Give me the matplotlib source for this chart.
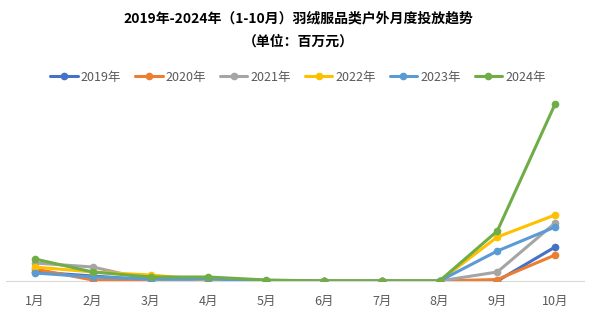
import matplotlib.pyplot as plt

plt.rcParams['font.family'] = ['Noto Sans CJK SC', 'DejaVu Sans']

months = ['1月', '2月', '3月', '4月', '5月', '6月', '7月', '8月', '9月', '10月']
series_names = ['2019年', '2020年', '2021年', '2022年', '2023年', '2024年']
colors = ['#4472C4', '#ED7D31', '#A5A5A5', '#FFC000', '#5B9BD5', '#70AD47']

# monthly spend, millions of yuan (approximate)
y2019 = [9, 5, 1, 1, 0.5, 0, 0, 0, 0, 34]
y2020 = [12, 1, 1, 1, 0.5, 0, 0, 0, 1.5, 26]
y2021 = [18, 14, 1, 1, 0.5, 0, 0, 0, 9, 58]
y2022 = [14, 9, 6, 1, 0.5, 0, 0, 0, 44, 66]
y2023 = [8, 4, 2, 2, 0.5, 0, 0, 0, 30, 54]
y2024 = [22, 9, 4, 4, 1, 0, 0, 0, 50, 177]
values = [y2019, y2020, y2021, y2022, y2023, y2024]

fig = plt.figure(figsize=(5.96, 3.23), dpi=100)
ax = fig.add_axes([6 / 596, 1 - 281 / 323, 578 / 596, 190 / 323])

x = list(range(len(months)))
for name, c, v in zip(series_names, colors, values):
    ax.plot(x, v, color=c, lw=2.2, marker='o', ms=4.5, label=name,
            solid_capstyle='round', solid_joinstyle='round')

ax.set_xlim(-0.5, len(months) - 0.5)
ax.set_ylim(0, 190)
ax.set_xticks(x)
ax.set_xticklabels(months, fontsize=9, color='#595959')
ax.tick_params(axis='x', length=0, pad=10)
ax.set_yticks([])
for side in ['top', 'right', 'left']:
    ax.spines[side].set_visible(False)
ax.spines['bottom'].set_color('#d9d9d9')
ax.spines['bottom'].set_linewidth(0.8)
ax.spines['bottom'].set_zorder(0)

fig.text(0.5, 1 - 18 / 323, '2019年-2024年（1-10月）羽绒服品类户外月度投放趋势',
         ha='center', va='center', fontsize=10, fontweight='bold', color='#000000')
fig.text(0.5, 1 - 42 / 323, '（单位：百万元）',
         ha='center', va='center', fontsize=10, fontweight='bold', color='#000000')

leg = fig.legend(loc='center', bbox_to_anchor=(0.5, 1 - 77 / 323), ncol=6,
                 frameon=False, fontsize=9, handlelength=2.2, handletextpad=0.25,
                 columnspacing=1.1, labelcolor='#595959')

fig.savefig('out.png', dpi=100)
